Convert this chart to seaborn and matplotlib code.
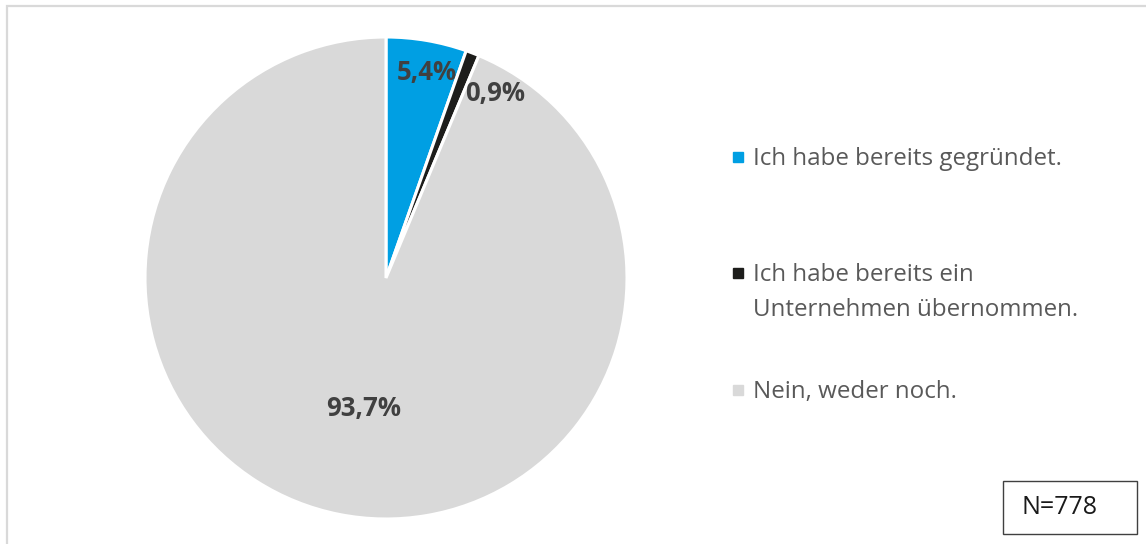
import numpy as np
import matplotlib
matplotlib.use("Agg")
import matplotlib.pyplot as plt
import seaborn as sns
from matplotlib.patches import Rectangle
from matplotlib.lines import Line2D

sns.set_theme(style="white")
plt.rcParams['font.family'] = ['Open Sans', 'DejaVu Sans']

# data
categories = ["Ich habe bereits gegründet.",
              "Ich habe bereits ein\nUnternehmen übernommen.",
              "Nein, weder noch."]
shares = [5.4, 0.9, 93.7]
value_labels = ["5,4%", "0,9%", "93,7%"]
colors = ["#009FE3", "#1D1D1B", "#D9D9D9"]
n_text = "N=778"

W, H = 1146, 544
fig = plt.figure(figsize=(W / 100, H / 100), dpi=100)

# outer chart border (light gray, running off right/bottom)
fig.patches.append(Rectangle((7 / W, -0.05), 1.2, 1 - 6 / H + 0.05,
                             transform=fig.transFigure, fill=False,
                             edgecolor="#D9D9D9", linewidth=1.6))

# pie axes: centre ~ (386, 278), radius ~241 px
r = 241
cx, cy = 386, 278
ax = fig.add_axes([(cx - r) / W, (H - cy - r) / H, 2 * r / W, 2 * r / H])
wedges, _ = ax.pie(shares, colors=colors, startangle=90, counterclock=False,
                   radius=1.0, wedgeprops=dict(edgecolor="white", linewidth=2.2))
ax.set_xlim(-1, 1)
ax.set_ylim(-1, 1)
ax.set_aspect("equal")
ax.axis("off")

# value labels placed from the wedge angles
dists = [0.87, 0.89, 0.55]
shift = [-1.5, -9.5, 1.5]  # 0,9% label sits just outside its thin slice
for w, lab, d, s in zip(wedges, value_labels, dists, shift):
    ang = np.deg2rad((w.theta1 + w.theta2) / 2 + s)
    ax.text(d * np.cos(ang), d * np.sin(ang), lab, ha="center", va="center",
            fontsize=18.5, fontweight="bold", color="#404040")

# legend: one small legend per text line, marker on the first line of each entry
legend_y = [[159], [275, 310], [392]]
for cat, col, ys in zip(categories, colors, legend_y):
    for i, (line, ly) in enumerate(zip(cat.split("\n"), ys)):
        h = Line2D([], [], marker="s", linestyle="none", markersize=7,
                   markerfacecolor=col, markeredgecolor=col,
                   alpha=1.0 if i == 0 else 0.0)
        fig.legend(handles=[h], labels=[line], loc="center left",
                   bbox_to_anchor=(719 / W, 1 - ly / H), frameon=False,
                   handlelength=0.6, handletextpad=0.3, fontsize=17.4,
                   labelcolor="#595959", borderpad=0)

# N box
fig.patches.append(Rectangle((1003 / W, 1 - 534 / H), 134 / W, 53 / H,
                             transform=fig.transFigure, fill=False,
                             edgecolor="#404040", linewidth=1.0))
fig.text(1059 / W, 1 - 508 / H, n_text, ha="center", va="center",
         fontsize=18, color="#1a1a1a")

fig.savefig("out.png", dpi=100, facecolor="white")
